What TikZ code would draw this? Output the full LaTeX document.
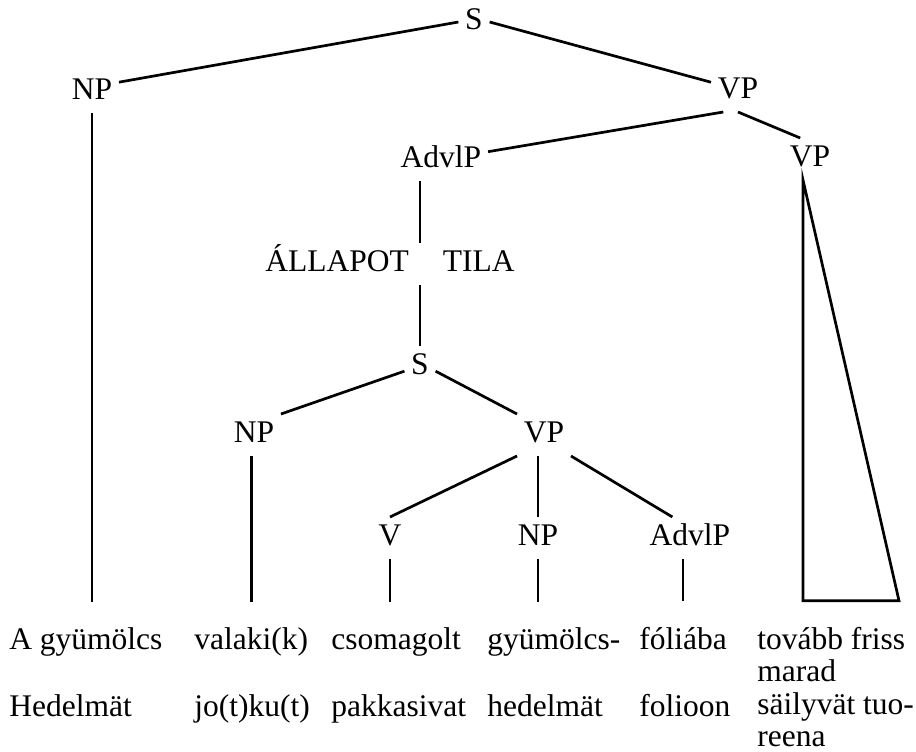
\documentclass[tikz,border=0pt]{standalone}
\usepackage{fontspec}
\setmainfont{Liberation Serif}
\usetikzlibrary{positioning}

\begin{document}
\begin{tikzpicture}[x=1pt, y=-1pt, on grid, line width=2.7pt,
  syn/.style={font=\fontsize{31.5}{32}\selectfont, inner sep=5.5pt, text height=22pt, text depth=6.3pt},
  word/.style={font=\fontsize{31.5}{32}\selectfont, inner sep=0pt, anchor=base west, align=left},
  stem/.style={shorten >=24pt}]
\useasboundingbox (0,0) rectangle (916,752);

% Define nodes
% Top nodes
\node[syn] (s0) at (474,22) {S};
\node[syn, below left=70pt and 382pt of s0] (np0) {NP};
\node[syn, below right=69pt and 264pt of s0] (vp0) {VP};
\node[syn, below left=69pt and 297pt of vp0] (advlp0) {AdvlP};
\node[syn, below right=68pt and 72pt of vp0] (vp1) {VP};
\node[syn, below left=104pt and 51pt of advlp0] (state) {ÁLLAPOT\hspace{34pt}TILA};
\node[syn, below right=103pt and 30pt of state] (s1) {S};
\node[syn, below left=68pt and 166pt of s1] (np1) {NP};
\node[syn, below right=68pt and 124pt of s1] (vp2) {VP};
\node[syn, below left=103pt and 154pt of vp2] (v) {V};
\node[syn, below left=103pt and 6pt of vp2] (np2) {NP};
\node[syn, below right=103pt and 146pt of vp2] (advlp1) {AdvlP};

% Words (base of a two-line word is its last line)
\node[word] (wa1) at (8,649) {A gyümölcs};
\node[word] (wa2) at (8,716) {Hedelmät};
\node[word] (wb1) at (193,649) {valaki(k)};
\node[word] (wb2) at (193,716) {jo(t)ku(t)};
\node[word] (wc1) at (330,649) {csomagolt};
\node[word] (wc2) at (330,716) {pakkasivat};
\node[word] (wd1) at (486,649) {gyümölcs-};
\node[word] (wd2) at (486,716) {hedelmät};
\node[word] (we1) at (638,649) {fóliába};
\node[word] (we2) at (638,716) {folioon};
\node[word] (wf1) at (756,681) {tovább friss\\marad};
\node[word] (wf2) at (756,746) {säilyvät tuo-\\reena};

% Edges
\draw (np0.20) -- (s0.west);
\draw (s0.east) -- (vp0.162);
\draw (vp0.235) -- (advlp0.10);
\draw (vp0.south) -- (vp1.115);
\draw (advlp0.south -| s1.north) -- (state.north -| s1.north);
\draw (state.south -| s1.north) -- (s1.north);
\draw (s1.195) -- (np1.north east);
\draw (s1.345) -- (vp2.north west);
\draw (vp2.south west) -- (v.north);
\draw (vp2.south -| np2.north) -- (np2.north);
\draw (vp2.south east) -- (advlp1.130);

% Stems down to the words
\draw[stem] (np0) -- (np0 |- wa1.north);
\draw[stem] (np1.south -| wb1.north) -- (wb1.north);
\draw[stem] (v) -- (v |- wc1.north);
\draw[stem] (np2) -- (np2 |- wd1.north);
\draw[stem] (advlp1.south -| we1.north) -- (we1.north);

% Roof over the last VP
\draw (vp1.south) ++(-7pt,0) coordinate (apex)
  -- ([yshift=25pt]apex |- wa1.north) -- ++(96pt,0) -- cycle;
\end{tikzpicture}
\end{document}
